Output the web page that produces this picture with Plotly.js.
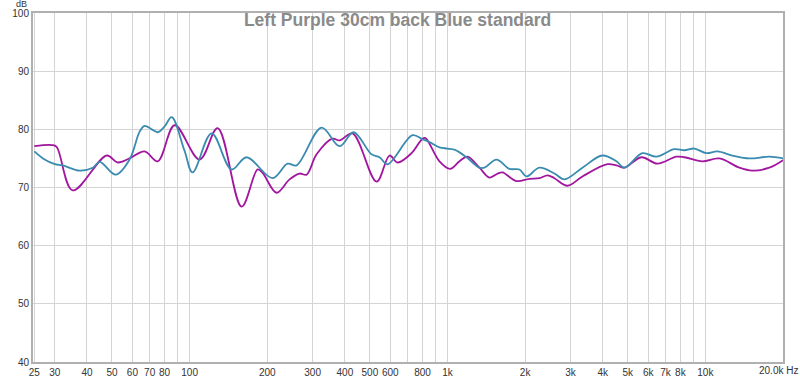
<!DOCTYPE html>
<html>
<head>
<meta charset="utf-8">
<script src="https://cdn.plot.ly/plotly-3.0.1.min.js"></script>
<style>html,body{margin:0;padding:0;background:#fff;}#chart{width:800px;height:380px;}</style>
</head>
<body>
<div id="chart"></div>
<script>
var blueFreq = [25, 27.4, 30, 32.2, 37.5, 42.1, 44.8, 51.7, 58.5, 64.0, 66.9, 71.3, 75.2, 80.0, 85.2, 95.6, 102.7, 121.7, 145.5, 166.3, 209.8, 239.8, 259.8, 324.9, 381.4, 432.2, 507.6, 545.2, 585.4, 731.8, 800, 851.6, 931, 1000, 1064, 1185, 1330, 1391, 1549, 1739, 1901, 2024, 2273, 2598, 2841, 3336, 3989, 4519, 4853, 5698, 6457, 7583, 8290, 9066, 10090, 11130, 12730, 14810, 17700, 20000];
var blueDb = [76.2, 74.8, 74.0, 73.8, 72.9, 73.4, 74.4, 72.2, 74.8, 79.6, 80.6, 80.0, 79.5, 80.5, 82.1, 76.3, 72.6, 79.3, 73.1, 75.2, 71.6, 74.1, 73.8, 80.3, 77.1, 79.5, 75.7, 75.2, 74.0, 79.0, 78.3, 77.8, 76.9, 76.7, 76.5, 75.2, 73.4, 73.4, 74.8, 73.2, 73.1, 71.9, 73.4, 72.4, 71.4, 73.4, 75.5, 74.5, 73.4, 75.9, 75.3, 76.6, 76.4, 76.7, 75.9, 76.2, 75.5, 75.0, 75.3, 75.0];

var purpleFreq = [25, 29.2, 30.5, 35.2, 47.7, 52.6, 58.5, 66.9, 75.2, 87.5, 109.3, 128.4, 159.1, 183.5, 191.9, 217.4, 244.1, 266.9, 284.1, 310.7, 358.3, 381.4, 428.3, 530.8, 596.2, 640.2, 725.3, 800, 821.7, 931, 1023, 1113, 1195, 1330, 1455, 1565, 1634, 1851, 2079, 2273, 2442, 2598, 2918, 3336, 4171, 4519, 4853, 5647, 6516, 7720, 8290, 9736, 11330, 13550, 15210, 17700, 20000];
var purpleDb = [77.1, 77.3, 77.0, 69.5, 75.5, 74.3, 75.0, 76.2, 74.5, 80.7, 74.8, 80.2, 66.7, 73.1, 72.5, 69.1, 71.4, 72.4, 72.2, 75.7, 78.4, 78.1, 79.3, 71.0, 75.5, 74.3, 75.9, 78.4, 78.5, 74.5, 73.2, 74.5, 75.3, 73.4, 71.7, 72.4, 72.6, 71.1, 71.5, 71.6, 72.1, 71.6, 70.3, 71.9, 74.0, 73.8, 73.4, 75.2, 74.1, 75.3, 75.2, 74.5, 75.0, 73.4, 72.9, 73.4, 74.7];

var xTickVals = [25, 30, 40, 50, 60, 70, 80, 90, 100, 200, 300, 400, 500, 600, 700, 800, 900, 1000, 2000, 3000, 4000, 5000, 6000, 7000, 8000, 9000, 10000];
var xTickText = ['25', '30', '40', '50', '60', '70', '80', '', '100', '200', '300', '400', '500', '600', '', '800', '', '1k', '2k', '3k', '4k', '5k', '6k', '7k', '8k', '', '10k'];
var xEndLabel = '20.0k Hz';
var yTickVals = [40, 50, 60, 70, 80, 90, 100];
var yUnit = 'dB';

var chartTitle = 'Left Purple 30cm back Blue standard';

var traces = [
  {x: purpleFreq, y: purpleDb, type: 'scatter', mode: 'lines', line: {color: '#a2169f', width: 1.8, shape: 'spline', smoothing: 1}, hoverinfo: 'skip'},
  {x: blueFreq, y: blueDb, type: 'scatter', mode: 'lines', line: {color: '#3a8bb0', width: 1.8, shape: 'spline', smoothing: 1}, hoverinfo: 'skip'}
];

var layout = {
  width: 800, height: 380,
  margin: {l: 33, r: 17, t: 13, b: 18, pad: 0},
  paper_bgcolor: '#ffffff', plot_bgcolor: '#ffffff',
  showlegend: false,
  font: {family: 'Liberation Sans, Arial, sans-serif', size: 10, color: '#333'},
  title: {text: chartTitle, font: {family: 'Liberation Sans, Arial, sans-serif', size: 17.5, color: '#8a8a8a', weight: 'bold'}, xref: 'container', x: 0.497, xanchor: 'center', yref: 'container', y: 0.947, yanchor: 'middle'},
  xaxis: {
    type: 'log', range: [Math.log10(24.7), Math.log10(20000)],
    tickmode: 'array', tickvals: xTickVals, ticktext: xTickText,
    showgrid: true, gridcolor: '#d4d4d4', gridwidth: 1,
    showline: true, linecolor: '#b0b0b0', linewidth: 2, mirror: true,
    ticks: '', zeroline: false, tickfont: {size: 10, color: '#333'}
  },
  yaxis: {
    range: [40, 100], tickmode: 'array', tickvals: yTickVals,
    showgrid: true, gridcolor: '#d4d4d4', gridwidth: 1,
    showline: true, linecolor: '#b0b0b0', linewidth: 2, mirror: true,
    ticks: '', zeroline: false, tickfont: {size: 10, color: '#333'}
  },
  annotations: [
    {text: yUnit, xref: 'paper', yref: 'paper', x: 0, y: 1.0, xanchor: 'right', yanchor: 'bottom', xshift: -4, yshift: 2, showarrow: false, font: {size: 9, color: '#333'}},
    {text: xEndLabel, xref: 'paper', yref: 'paper', x: 1, y: 0, xanchor: 'right', yanchor: 'top', xshift: 17, yshift: -1, showarrow: false, font: {size: 10, color: '#333'}}
  ]
};

Plotly.newPlot('chart', traces, layout, {staticPlot: true, displayModeBar: false});
</script>
</body>
</html>
